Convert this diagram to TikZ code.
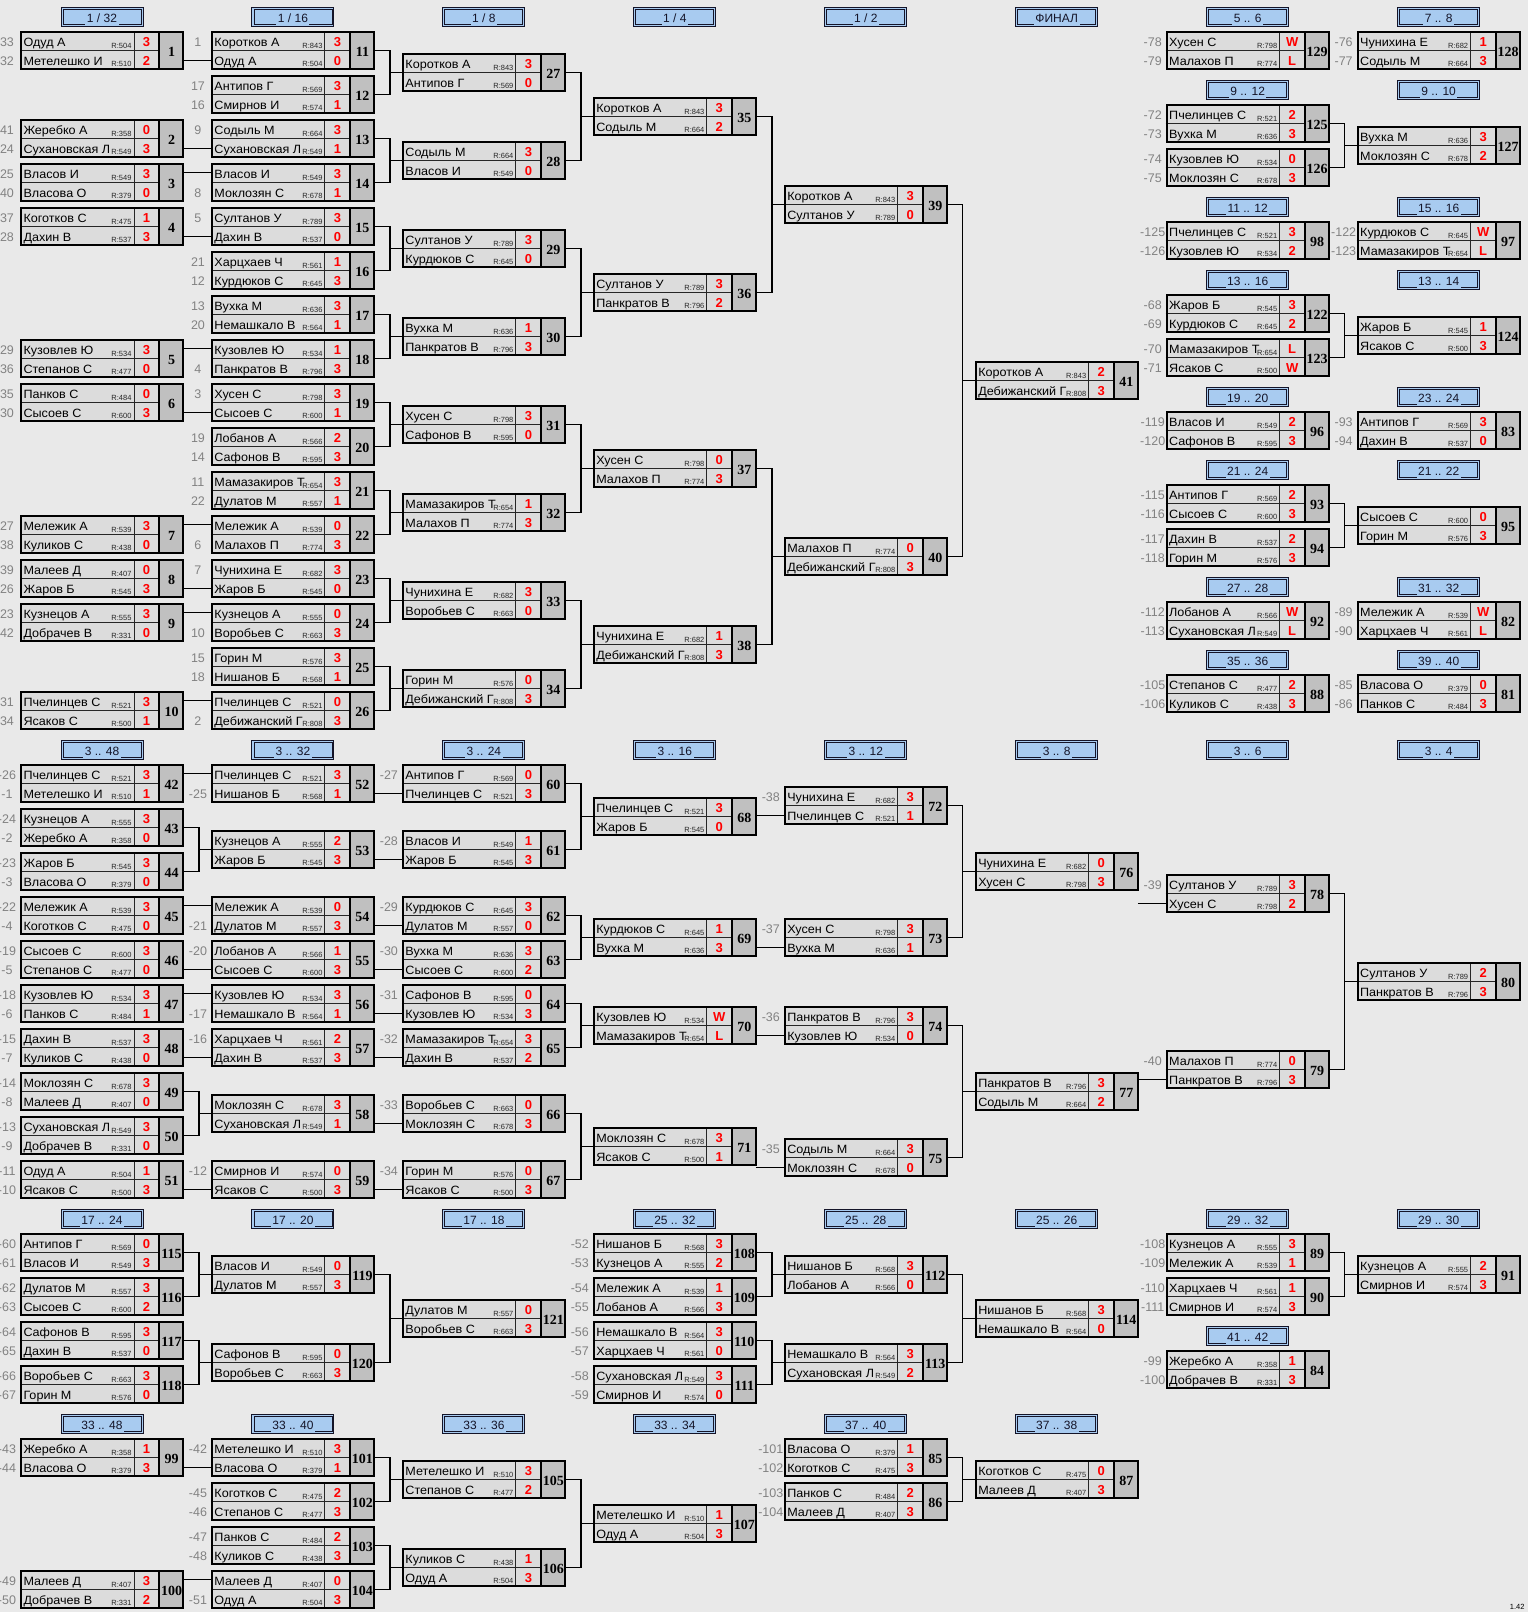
\documentclass[tikz,border=0pt]{standalone}
\usepackage{fontspec}
\setmainfont{Liberation Sans}
\newfontfamily\numfont{Liberation Serif}
\newfontfamily\namefont[FakeStretch=1.05]{Liberation Sans}
\usepackage{tikz}
\definecolor{pagebg}{RGB}{233,233,233}
\definecolor{cellbg}{RGB}{220,220,220}
\definecolor{numbg}{RGB}{192,192,192}
\definecolor{hdrbg}{RGB}{168,203,240}
\definecolor{hdrdark}{RGB}{20,20,40}
\definecolor{seedgray}{RGB}{130,130,130}
\definecolor{red}{RGB}{255,0,0}

\newcommand{\colA}{20}
\newcommand{\colB}{210.95}
\newcommand{\colC}{401.9}
\newcommand{\colD}{592.85}
\newcommand{\colE}{783.8}
\newcommand{\colF}{974.75}
\newcommand{\colG}{1165.7}
\newcommand{\colH}{1356.65}

\tikzset{
  matchbox/.style={draw, line width=2pt, minimum width=162pt, minimum height=37pt},
  gridline/.style={line width=1pt, black!85},
  link/.style={line width=1.3pt, black},
  pname/.style={anchor=base west, font=\fontsize{12}{12}\selectfont\namefont},
  prate/.style={anchor=base east, font=\fontsize{7.5}{8}\selectfont, black!85},
  pscore/.style={anchor=base, text=red, font=\fontsize{13}{13}\selectfont\bfseries},
  pnum/.style={anchor=base, font=\fontsize{14}{14}\selectfont\numfont\bfseries},
  seed/.style={anchor=base, text=seedgray, font=\fontsize{12.5}{13}\selectfont},
  hdrbox/.style={draw=hdrdark, fill=hdrbg, line width=1pt, minimum width=82pt, minimum height=19pt},
  hdrline/.style={draw=hdrdark, line width=0.9pt},
  hdrtext/.style={anchor=base, fill=hdrbg, inner xsep=1.5pt, text height=8.6pt, text depth=2.6pt,
    text=hdrdark, font=\fontsize{12}{12}\selectfont},
}

% id, x, y, name1, rating1, score1, name2, rating2, score2
\newcommand{\match}[9]{%
  \begin{scope}[shift={(#2,#3)}]
    \fill[cellbg] (0,0) rectangle (164,39);
    \fill[numbg] (139,0) rectangle (164,39);
    \draw[gridline] (0,19.5) -- (139,19.5) (114,0) -- (114,39);
    \draw[line width=2pt] (139,0) -- (139,39);
    \node[matchbox] (m#1) at (82,19.5) {};
    \coordinate (m#1a) at (0,9.75);
    \coordinate (m#1b) at (0,29.25);
    \node[pname] (m#1p1) at (3.5,15) {#4};
    \node[prate] (m#1r1) at (111.5,17.3) {R:#5};
    \node[pscore] (m#1s1) at (126.5,15) {#6};
    \node[pname] (m#1p2) at (3.5,34) {#7};
    \node[prate] (m#1r2) at (111.5,35.8) {R:#8};
    \node[pscore] (m#1s2) at (126.5,34) {#9};
    \node[pnum] (m#1n) at (151.5,25.5) {#1};
  \end{scope}}
\newcommand{\src}[3]{\path (m#1) ++(-95,-4.5) node[seed] (m#1q) {#2} ++(0,19) node[seed] (m#1w) {#3};}
\newcommand{\wfeed}[2]{\draw[link] (m#1.east |- m#2) -- (m#2);}
\newcommand{\bjoin}[3]{%
  \draw[link] (m#1.east) -- ++(16,0) coordinate (j#3) |- (m#2.east);
  \draw[link] (j#3 |- m#3.west) -- (m#3.west);}
\newcommand{\hdr}[4]{%
  \node[hdrbox] (h#1) at (#2+82,#3+9.75) {};
  \draw[hdrline] ([shift={(2,2)}]h#1.north west) rectangle ([shift={(-2,-2)}]h#1.south east);
  \node[hdrtext] (h#1t) at (#2+82,#3+15.5) {#4};}

\begin{document}
\begin{tikzpicture}[x=1pt, y=-1pt, every node/.style={inner sep=0pt, outer sep=0pt}]
\fill[pagebg] (0,0) rectangle (1528,1612);
\useasboundingbox (0,0) rectangle (1528,1612);

% headers
\hdr{a1}{\colA}{7}{1 / 32}
\hdr{a2}{\colB}{7}{1 / 16}
\hdr{a3}{\colC}{7}{1 / 8}
\hdr{a4}{\colD}{7}{1 / 4}
\hdr{a5}{\colE}{7}{1 / 2}
\hdr{a6}{\colF}{7}{ФИНАЛ}
\hdr{a7}{\colG}{7}{5 .. 6}
\hdr{a8}{\colH}{7}{7 .. 8}
\hdr{g1}{\colG}{80}{9 .. 12}
\hdr{g2}{\colG}{197}{11 .. 12}
\hdr{g3}{\colG}{270}{13 .. 16}
\hdr{g4}{\colG}{387}{19 .. 20}
\hdr{g5}{\colG}{460}{21 .. 24}
\hdr{g6}{\colG}{577}{27 .. 28}
\hdr{g7}{\colG}{650}{35 .. 36}
\hdr{k1}{\colH}{80}{9 .. 10}
\hdr{k2}{\colH}{197}{15 .. 16}
\hdr{k3}{\colH}{270}{13 .. 14}
\hdr{k4}{\colH}{387}{23 .. 24}
\hdr{k5}{\colH}{460}{21 .. 22}
\hdr{k6}{\colH}{577}{31 .. 32}
\hdr{k7}{\colH}{650}{39 .. 40}
\hdr{b1}{\colA}{740}{3 .. 48}
\hdr{b2}{\colB}{740}{3 .. 32}
\hdr{b3}{\colC}{740}{3 .. 24}
\hdr{b4}{\colD}{740}{3 .. 16}
\hdr{b5}{\colE}{740}{3 .. 12}
\hdr{b6}{\colF}{740}{3 .. 8}
\hdr{b7}{\colG}{740}{3 .. 6}
\hdr{b8}{\colH}{740}{3 .. 4}
\hdr{c1}{\colA}{1209}{17 .. 24}
\hdr{c2}{\colB}{1209}{17 .. 20}
\hdr{c3}{\colC}{1209}{17 .. 18}
\hdr{c4}{\colD}{1209}{25 .. 32}
\hdr{c5}{\colE}{1209}{25 .. 28}
\hdr{c6}{\colF}{1209}{25 .. 26}
\hdr{c7}{\colG}{1209}{29 .. 32}
\hdr{c8}{\colH}{1209}{29 .. 30}
\hdr{c9}{\colG}{1326}{41 .. 42}
\hdr{d1}{\colA}{1414}{33 .. 48}
\hdr{d2}{\colB}{1414}{33 .. 40}
\hdr{d3}{\colC}{1414}{33 .. 36}
\hdr{d4}{\colD}{1414}{33 .. 34}
\hdr{d5}{\colE}{1414}{37 .. 40}
\hdr{d6}{\colF}{1414}{37 .. 38}

% main bracket
\match{1}{\colA}{31}{Одуд А}{504}{3}{Метелешко И}{510}{2}
\match{2}{\colA}{119}{Жеребко А}{358}{0}{Сухановская Л}{549}{3}
\match{3}{\colA}{163}{Власов И}{549}{3}{Власова О}{379}{0}
\match{4}{\colA}{207}{Коготков С}{475}{1}{Дахин В}{537}{3}
\match{5}{\colA}{339}{Кузовлев Ю}{534}{3}{Степанов С}{477}{0}
\match{6}{\colA}{383}{Панков С}{484}{0}{Сысоев С}{600}{3}
\match{7}{\colA}{515}{Мележик А}{539}{3}{Куликов С}{438}{0}
\match{8}{\colA}{559}{Малеев Д}{407}{0}{Жаров Б}{545}{3}
\match{9}{\colA}{603}{Кузнецов А}{555}{3}{Добрачев В}{331}{0}
\match{10}{\colA}{691}{Пчелинцев С}{521}{3}{Ясаков С}{500}{1}
\src{1}{33}{32} \src{2}{41}{24} \src{3}{25}{40} \src{4}{37}{28} \src{5}{29}{36}
\src{6}{35}{30} \src{7}{27}{38} \src{8}{39}{26} \src{9}{23}{42} \src{10}{31}{34}

\match{11}{\colB}{31}{Коротков А}{843}{3}{Одуд А}{504}{0}
\match{12}{\colB}{75}{Антипов Г}{569}{3}{Смирнов И}{574}{1}
\match{13}{\colB}{119}{Содыль М}{664}{3}{Сухановская Л}{549}{1}
\match{14}{\colB}{163}{Власов И}{549}{3}{Моклозян С}{678}{1}
\match{15}{\colB}{207}{Султанов У}{789}{3}{Дахин В}{537}{0}
\match{16}{\colB}{251}{Харцхаев Ч}{561}{1}{Курдюков С}{645}{3}
\match{17}{\colB}{295}{Вухка М}{636}{3}{Немашкало В}{564}{1}
\match{18}{\colB}{339}{Кузовлев Ю}{534}{1}{Панкратов В}{796}{3}
\match{19}{\colB}{383}{Хусен С}{798}{3}{Сысоев С}{600}{1}
\match{20}{\colB}{427}{Лобанов А}{566}{2}{Сафонов В}{595}{3}
\match{21}{\colB}{471}{Мамазакиров Т}{654}{3}{Дулатов М}{557}{1}
\match{22}{\colB}{515}{Мележик А}{539}{0}{Малахов П}{774}{3}
\match{23}{\colB}{559}{Чунихина Е}{682}{3}{Жаров Б}{545}{0}
\match{24}{\colB}{603}{Кузнецов А}{555}{0}{Воробьев С}{663}{3}
\match{25}{\colB}{647}{Горин М}{576}{3}{Нишанов Б}{568}{1}
\match{26}{\colB}{691}{Пчелинцев С}{521}{0}{Дебижанский Г}{808}{3}
\src{11}{1}{} \src{12}{17}{16} \src{13}{9}{} \src{14}{}{8} \src{15}{5}{} \src{16}{21}{12}
\src{17}{13}{20} \src{18}{}{4} \src{19}{3}{} \src{20}{19}{14} \src{21}{11}{22}
\src{22}{}{6} \src{23}{7}{} \src{24}{}{10} \src{25}{15}{18} \src{26}{}{2}

\match{27}{\colC}{53}{Коротков А}{843}{3}{Антипов Г}{569}{0}
\match{28}{\colC}{141}{Содыль М}{664}{3}{Власов И}{549}{0}
\match{29}{\colC}{229}{Султанов У}{789}{3}{Курдюков С}{645}{0}
\match{30}{\colC}{317}{Вухка М}{636}{1}{Панкратов В}{796}{3}
\match{31}{\colC}{405}{Хусен С}{798}{3}{Сафонов В}{595}{0}
\match{32}{\colC}{493}{Мамазакиров Т}{654}{1}{Малахов П}{774}{3}
\match{33}{\colC}{581}{Чунихина Е}{682}{3}{Воробьев С}{663}{0}
\match{34}{\colC}{669}{Горин М}{576}{0}{Дебижанский Г}{808}{3}
\match{35}{\colD}{97}{Коротков А}{843}{3}{Содыль М}{664}{2}
\match{36}{\colD}{273}{Султанов У}{789}{3}{Панкратов В}{796}{2}
\match{37}{\colD}{449}{Хусен С}{798}{0}{Малахов П}{774}{3}
\match{38}{\colD}{625}{Чунихина Е}{682}{1}{Дебижанский Г}{808}{3}
\match{39}{\colE}{185}{Коротков А}{843}{3}{Султанов У}{789}{0}
\match{40}{\colE}{537}{Малахов П}{774}{0}{Дебижанский Г}{808}{3}
\match{41}{\colF}{361}{Коротков А}{843}{2}{Дебижанский Г}{808}{3}

\wfeed{1}{11b} \wfeed{2}{13b} \wfeed{3}{14a} \wfeed{4}{15b} \wfeed{5}{18a}
\wfeed{6}{19b} \wfeed{7}{22a} \wfeed{8}{23b} \wfeed{9}{24a} \wfeed{10}{26a}
\bjoin{11}{12}{27} \bjoin{13}{14}{28} \bjoin{15}{16}{29} \bjoin{17}{18}{30}
\bjoin{19}{20}{31} \bjoin{21}{22}{32} \bjoin{23}{24}{33} \bjoin{25}{26}{34}
\bjoin{27}{28}{35} \bjoin{29}{30}{36} \bjoin{31}{32}{37} \bjoin{33}{34}{38}
\bjoin{35}{36}{39} \bjoin{37}{38}{40} \bjoin{39}{40}{41}

% places 5 .. 40
\match{129}{\colG}{31}{Хусен С}{798}{W}{Малахов П}{774}{L}
\match{125}{\colG}{104}{Пчелинцев С}{521}{2}{Вухка М}{636}{3}
\match{126}{\colG}{148}{Кузовлев Ю}{534}{0}{Моклозян С}{678}{3}
\match{98}{\colG}{221}{Пчелинцев С}{521}{3}{Кузовлев Ю}{534}{2}
\match{122}{\colG}{294}{Жаров Б}{545}{3}{Курдюков С}{645}{2}
\match{123}{\colG}{338}{Мамазакиров Т}{654}{L}{Ясаков С}{500}{W}
\match{96}{\colG}{411}{Власов И}{549}{2}{Сафонов В}{595}{3}
\match{93}{\colG}{484}{Антипов Г}{569}{2}{Сысоев С}{600}{3}
\match{94}{\colG}{528}{Дахин В}{537}{2}{Горин М}{576}{3}
\match{92}{\colG}{601}{Лобанов А}{566}{W}{Сухановская Л}{549}{L}
\match{88}{\colG}{674}{Степанов С}{477}{2}{Куликов С}{438}{3}
\src{129}{-78}{-79} \src{125}{-72}{-73} \src{126}{-74}{-75} \src{98}{-125}{-126}
\src{122}{-68}{-69} \src{123}{-70}{-71} \src{96}{-119}{-120} \src{93}{-115}{-116}
\src{94}{-117}{-118} \src{92}{-112}{-113} \src{88}{-105}{-106}
\match{128}{\colH}{31}{Чунихина Е}{682}{1}{Содыль М}{664}{3}
\match{127}{\colH}{126}{Вухка М}{636}{3}{Моклозян С}{678}{2}
\match{97}{\colH}{221}{Курдюков С}{645}{W}{Мамазакиров Т}{654}{L}
\match{124}{\colH}{316}{Жаров Б}{545}{1}{Ясаков С}{500}{3}
\match{83}{\colH}{411}{Антипов Г}{569}{3}{Дахин В}{537}{0}
\match{95}{\colH}{506}{Сысоев С}{600}{0}{Горин М}{576}{3}
\match{82}{\colH}{601}{Мележик А}{539}{W}{Харцхаев Ч}{561}{L}
\match{81}{\colH}{674}{Власова О}{379}{0}{Панков С}{484}{3}
\src{128}{-76}{-77} \src{97}{-122}{-123} \src{83}{-93}{-94} \src{82}{-89}{-90} \src{81}{-85}{-86}
\bjoin{125}{126}{127} \bjoin{122}{123}{124} \bjoin{93}{94}{95}

% consolation 3 .. 48
\match{42}{\colA}{764}{Пчелинцев С}{521}{3}{Метелешко И}{510}{1}
\match{43}{\colA}{808}{Кузнецов А}{555}{3}{Жеребко А}{358}{0}
\match{44}{\colA}{852}{Жаров Б}{545}{3}{Власова О}{379}{0}
\match{45}{\colA}{896}{Мележик А}{539}{3}{Коготков С}{475}{0}
\match{46}{\colA}{940}{Сысоев С}{600}{3}{Степанов С}{477}{0}
\match{47}{\colA}{984}{Кузовлев Ю}{534}{3}{Панков С}{484}{1}
\match{48}{\colA}{1028}{Дахин В}{537}{3}{Куликов С}{438}{0}
\match{49}{\colA}{1072}{Моклозян С}{678}{3}{Малеев Д}{407}{0}
\match{50}{\colA}{1116}{Сухановская Л}{549}{3}{Добрачев В}{331}{0}
\match{51}{\colA}{1160}{Одуд А}{504}{1}{Ясаков С}{500}{3}
\src{42}{-26}{-1} \src{43}{-24}{-2} \src{44}{-23}{-3} \src{45}{-22}{-4} \src{46}{-19}{-5}
\src{47}{-18}{-6} \src{48}{-15}{-7} \src{49}{-14}{-8} \src{50}{-13}{-9} \src{51}{-11}{-10}
\match{52}{\colB}{764}{Пчелинцев С}{521}{3}{Нишанов Б}{568}{1}
\match{53}{\colB}{830}{Кузнецов А}{555}{2}{Жаров Б}{545}{3}
\match{54}{\colB}{896}{Мележик А}{539}{0}{Дулатов М}{557}{3}
\match{55}{\colB}{940}{Лобанов А}{566}{1}{Сысоев С}{600}{3}
\match{56}{\colB}{984}{Кузовлев Ю}{534}{3}{Немашкало В}{564}{1}
\match{57}{\colB}{1028}{Харцхаев Ч}{561}{2}{Дахин В}{537}{3}
\match{58}{\colB}{1094}{Моклозян С}{678}{3}{Сухановская Л}{549}{1}
\match{59}{\colB}{1160}{Смирнов И}{574}{0}{Ясаков С}{500}{3}
\src{52}{}{-25} \src{54}{}{-21} \src{55}{-20}{} \src{56}{}{-17} \src{57}{-16}{} \src{59}{-12}{}
\match{60}{\colC}{764}{Антипов Г}{569}{0}{Пчелинцев С}{521}{3}
\match{61}{\colC}{830}{Власов И}{549}{1}{Жаров Б}{545}{3}
\match{62}{\colC}{896}{Курдюков С}{645}{3}{Дулатов М}{557}{0}
\match{63}{\colC}{940}{Вухка М}{636}{3}{Сысоев С}{600}{2}
\match{64}{\colC}{984}{Сафонов В}{595}{0}{Кузовлев Ю}{534}{3}
\match{65}{\colC}{1028}{Мамазакиров Т}{654}{3}{Дахин В}{537}{2}
\match{66}{\colC}{1094}{Воробьев С}{663}{0}{Моклозян С}{678}{3}
\match{67}{\colC}{1160}{Горин М}{576}{0}{Ясаков С}{500}{3}
\src{60}{-27}{} \src{61}{-28}{} \src{62}{-29}{} \src{63}{-30}{}
\src{64}{-31}{} \src{65}{-32}{} \src{66}{-33}{} \src{67}{-34}{}
\match{68}{\colD}{797}{Пчелинцев С}{521}{3}{Жаров Б}{545}{0}
\match{69}{\colD}{918}{Курдюков С}{645}{1}{Вухка М}{636}{3}
\match{70}{\colD}{1006}{Кузовлев Ю}{534}{W}{Мамазакиров Т}{654}{L}
\match{71}{\colD}{1127}{Моклозян С}{678}{3}{Ясаков С}{500}{1}
\match{72}{\colE}{786}{Чунихина Е}{682}{3}{Пчелинцев С}{521}{1}
\match{73}{\colE}{918}{Хусен С}{798}{3}{Вухка М}{636}{1}
\match{74}{\colE}{1006}{Панкратов В}{796}{3}{Кузовлев Ю}{534}{0}
\match{75}{\colE}{1138}{Содыль М}{664}{3}{Моклозян С}{678}{0}
\src{72}{-38}{} \src{73}{-37}{} \src{74}{-36}{} \src{75}{-35}{}
\match{76}{\colF}{852}{Чунихина Е}{682}{0}{Хусен С}{798}{3}
\match{77}{\colF}{1072}{Панкратов В}{796}{3}{Содыль М}{664}{2}
\match{78}{\colG}{874}{Султанов У}{789}{3}{Хусен С}{798}{2}
\match{79}{\colG}{1050}{Малахов П}{774}{0}{Панкратов В}{796}{3}
\src{78}{-39}{} \src{79}{-40}{}
\match{80}{\colH}{962}{Султанов У}{789}{2}{Панкратов В}{796}{3}

\wfeed{42}{52a} \wfeed{45}{54a} \wfeed{46}{55b} \wfeed{47}{56a} \wfeed{48}{57b} \wfeed{51}{59b}
\bjoin{43}{44}{53} \bjoin{49}{50}{58}
\wfeed{52}{60b} \wfeed{53}{61b} \wfeed{54}{62b} \wfeed{55}{63b}
\wfeed{56}{64b} \wfeed{57}{65b} \wfeed{58}{66b} \wfeed{59}{67b}
\bjoin{60}{61}{68} \bjoin{62}{63}{69} \bjoin{64}{65}{70} \bjoin{66}{67}{71}
\wfeed{68}{72b} \wfeed{69}{73b} \wfeed{70}{74b} \wfeed{71}{75b}
\bjoin{72}{73}{76} \bjoin{74}{75}{77}
\wfeed{76}{78b} \wfeed{77}{79b}
\bjoin{78}{79}{80}

% places 17 .. 32, 41 .. 42
\match{115}{\colA}{1233}{Антипов Г}{569}{0}{Власов И}{549}{3}
\match{116}{\colA}{1277}{Дулатов М}{557}{3}{Сысоев С}{600}{2}
\match{117}{\colA}{1321}{Сафонов В}{595}{3}{Дахин В}{537}{0}
\match{118}{\colA}{1365}{Воробьев С}{663}{3}{Горин М}{576}{0}
\src{115}{-60}{-61} \src{116}{-62}{-63} \src{117}{-64}{-65} \src{118}{-66}{-67}
\match{119}{\colB}{1255}{Власов И}{549}{0}{Дулатов М}{557}{3}
\match{120}{\colB}{1343}{Сафонов В}{595}{0}{Воробьев С}{663}{3}
\match{121}{\colC}{1299}{Дулатов М}{557}{0}{Воробьев С}{663}{3}
\match{108}{\colD}{1233}{Нишанов Б}{568}{3}{Кузнецов А}{555}{2}
\match{109}{\colD}{1277}{Мележик А}{539}{1}{Лобанов А}{566}{3}
\match{110}{\colD}{1321}{Немашкало В}{564}{3}{Харцхаев Ч}{561}{0}
\match{111}{\colD}{1365}{Сухановская Л}{549}{3}{Смирнов И}{574}{0}
\src{108}{-52}{-53} \src{109}{-54}{-55} \src{110}{-56}{-57} \src{111}{-58}{-59}
\match{112}{\colE}{1255}{Нишанов Б}{568}{3}{Лобанов А}{566}{0}
\match{113}{\colE}{1343}{Немашкало В}{564}{3}{Сухановская Л}{549}{2}
\match{114}{\colF}{1299}{Нишанов Б}{568}{3}{Немашкало В}{564}{0}
\match{89}{\colG}{1233}{Кузнецов А}{555}{3}{Мележик А}{539}{1}
\match{90}{\colG}{1277}{Харцхаев Ч}{561}{1}{Смирнов И}{574}{3}
\match{84}{\colG}{1350}{Жеребко А}{358}{1}{Добрачев В}{331}{3}
\src{89}{-108}{-109} \src{90}{-110}{-111} \src{84}{-99}{-100}
\match{91}{\colH}{1255}{Кузнецов А}{555}{2}{Смирнов И}{574}{3}
\bjoin{115}{116}{119} \bjoin{117}{118}{120} \bjoin{119}{120}{121}
\bjoin{108}{109}{112} \bjoin{110}{111}{113} \bjoin{112}{113}{114}
\bjoin{89}{90}{91}

% places 33 .. 48
\match{99}{\colA}{1438}{Жеребко А}{358}{1}{Власова О}{379}{3}
\match{100}{\colA}{1570}{Малеев Д}{407}{3}{Добрачев В}{331}{2}
\src{99}{-43}{-44} \src{100}{-49}{-50}
\match{101}{\colB}{1438}{Метелешко И}{510}{3}{Власова О}{379}{1}
\match{102}{\colB}{1482}{Коготков С}{475}{2}{Степанов С}{477}{3}
\match{103}{\colB}{1526}{Панков С}{484}{2}{Куликов С}{438}{3}
\match{104}{\colB}{1570}{Малеев Д}{407}{0}{Одуд А}{504}{3}
\src{101}{-42}{} \src{102}{-45}{-46} \src{103}{-47}{-48} \src{104}{}{-51}
\match{105}{\colC}{1460}{Метелешко И}{510}{3}{Степанов С}{477}{2}
\match{106}{\colC}{1548}{Куликов С}{438}{1}{Одуд А}{504}{3}
\match{107}{\colD}{1504}{Метелешко И}{510}{1}{Одуд А}{504}{3}
\match{85}{\colE}{1438}{Власова О}{379}{1}{Коготков С}{475}{3}
\match{86}{\colE}{1482}{Панков С}{484}{2}{Малеев Д}{407}{3}
\src{85}{-101}{-102} \src{86}{-103}{-104}
\match{87}{\colF}{1460}{Коготков С}{475}{0}{Малеев Д}{407}{3}
\wfeed{99}{101b} \wfeed{100}{104a}
\bjoin{101}{102}{105} \bjoin{103}{104}{106} \bjoin{105}{106}{107} \bjoin{85}{86}{87}

\node[anchor=base east, font=\fontsize{7.5}{8}\selectfont] (ver) at (1524.5,1609.3) {1.42};
\end{tikzpicture}
\end{document}
